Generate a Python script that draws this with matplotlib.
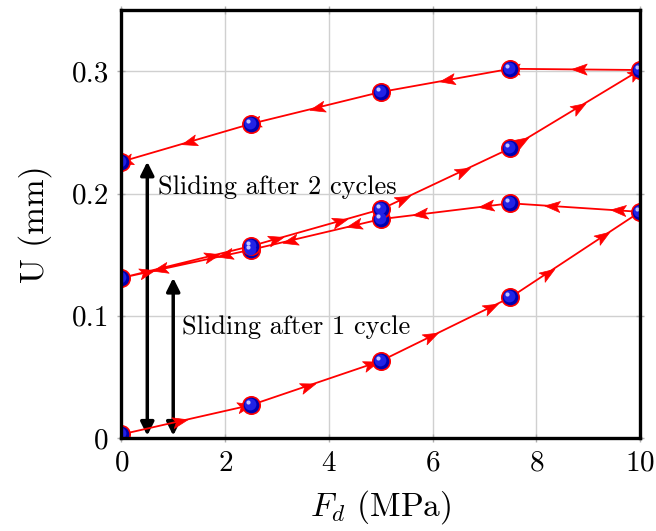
import numpy as np
import matplotlib
matplotlib.use('Agg')
import matplotlib.pyplot as plt
from matplotlib.path import Path
from matplotlib.markers import MarkerStyle
from matplotlib.transforms import Affine2D
from matplotlib.ticker import FuncFormatter

plt.rcParams['font.family'] = 'serif'
plt.rcParams['font.serif'] = ['cmr10']
plt.rcParams['mathtext.fontset'] = 'cm'
plt.rcParams['axes.formatter.use_mathtext'] = True

# load/unload cycles: stress Fd (MPa) vs displacement U (mm)
load1_f = [0, 2.5, 5, 7.5, 10]
load1_u = [0.003, 0.027, 0.063, 0.115, 0.185]
unload1_f = [10, 7.5, 5, 2.5, 0]
unload1_u = [0.185, 0.192, 0.179, 0.154, 0.131]
load2_f = [0, 2.5, 5, 7.5, 10]
load2_u = [0.131, 0.157, 0.187, 0.237, 0.301]
unload2_f = [10, 7.5, 5, 2.5, 0]
unload2_u = [0.301, 0.302, 0.283, 0.257, 0.226]

xticks = [0, 2, 4, 6, 8, 10]
yticks = [0, 0.1, 0.2, 0.3]

fig = plt.figure(figsize=(6.56, 5.31), dpi=100)
ax = fig.add_axes([0.185, 0.175, 0.7906, 0.806])
ax.set_xlim(0, 10)
ax.set_ylim(0, 0.35)

f = np.array(load1_f + unload1_f[1:] + load2_f[1:] + unload2_f[1:], dtype=float)
u = np.array(load1_u + unload1_u[1:] + load2_u[1:] + unload2_u[1:], dtype=float)

ax.plot(f, u, color='red', lw=1.3, zorder=3)

# stealth arrowheads every fixed distance along the path (in pixels)
stealth = Path([(0.9, 0), (-0.9, 0.65), (-0.5, 0), (-0.9, -0.65), (0.9, 0)],
               [Path.MOVETO, Path.LINETO, Path.LINETO, Path.LINETO, Path.CLOSEPOLY])
disp = ax.transData.transform(np.column_stack([f, u]))
seg = np.diff(disp, axis=0)
seg_len = np.hypot(seg[:, 0], seg[:, 1])
cum = np.concatenate([[0], np.cumsum(seg_len)])
s = 60.5
while s < cum[-1]:
    i = np.searchsorted(cum, s) - 1
    t = (s - cum[i]) / seg_len[i]
    p = disp[i] + t * seg[i]
    ang = np.arctan2(seg[i, 1], seg[i, 0])
    xd, yd = ax.transData.inverted().transform(p)
    m = MarkerStyle(stealth, transform=Affine2D().rotate(ang))
    ax.plot(xd, yd, marker=m, ms=11, color='red', mec='red', mew=0.5, zorder=4)
    s += 66.4

# shaded ball markers
ax.plot(f, u, ls='none', marker='o', ms=12.5, mfc='#0000b0', mec='red', mew=1.2, zorder=5)
ax.plot(f, u, ls='none', marker='o', ms=8.5, mfc='#2222e6', mec='none', zorder=6,
        transform=ax.transData + Affine2D().translate(-1, 1))
ax.plot(f, u, ls='none', marker='o', ms=3, mfc='#c0c0ff', mec='none', zorder=7,
        transform=ax.transData + Affine2D().translate(-3, 3))

# sliding annotations
ax.annotate('', xy=(0.5, 0.226), xytext=(0.5, 0.002),
            arrowprops=dict(arrowstyle='<|-|>', color='black', lw=2.5,
                            mutation_scale=20, shrinkA=0, shrinkB=0), zorder=2)
ax.annotate('', xy=(1.0, 0.131), xytext=(1.0, 0.002),
            arrowprops=dict(arrowstyle='<|-|>', color='black', lw=2.5,
                            mutation_scale=20, shrinkA=0, shrinkB=0), zorder=2)
ax.text(0.7, 0.2, 'Sliding after 2 cycles', fontsize=19, va='baseline', zorder=8)
ax.text(1.17, 0.085, 'Sliding after 1 cycle', fontsize=19, va='baseline', zorder=8)

ax.set_xticks(xticks)
ax.set_yticks(yticks)
ax.yaxis.set_major_formatter(FuncFormatter(lambda v, p: '0' if v == 0 else f'{v:.1f}'))
ax.grid(True, color='#d0d0d0', lw=1)
ax.set_axisbelow(True)
ax.tick_params(direction='inout', length=6, width=1, color='#b0b0b0',
               labelsize=21, top=True, right=True, pad=6)
for sp in ax.spines.values():
    sp.set_linewidth(2.4)
    sp.set_zorder(9)

ax.set_xlabel(r'$F_d$ (MPa)', fontsize=24, labelpad=8)
ax.set_ylabel('U (mm)', fontsize=24, labelpad=14)

fig.savefig('out.png', dpi=100)
